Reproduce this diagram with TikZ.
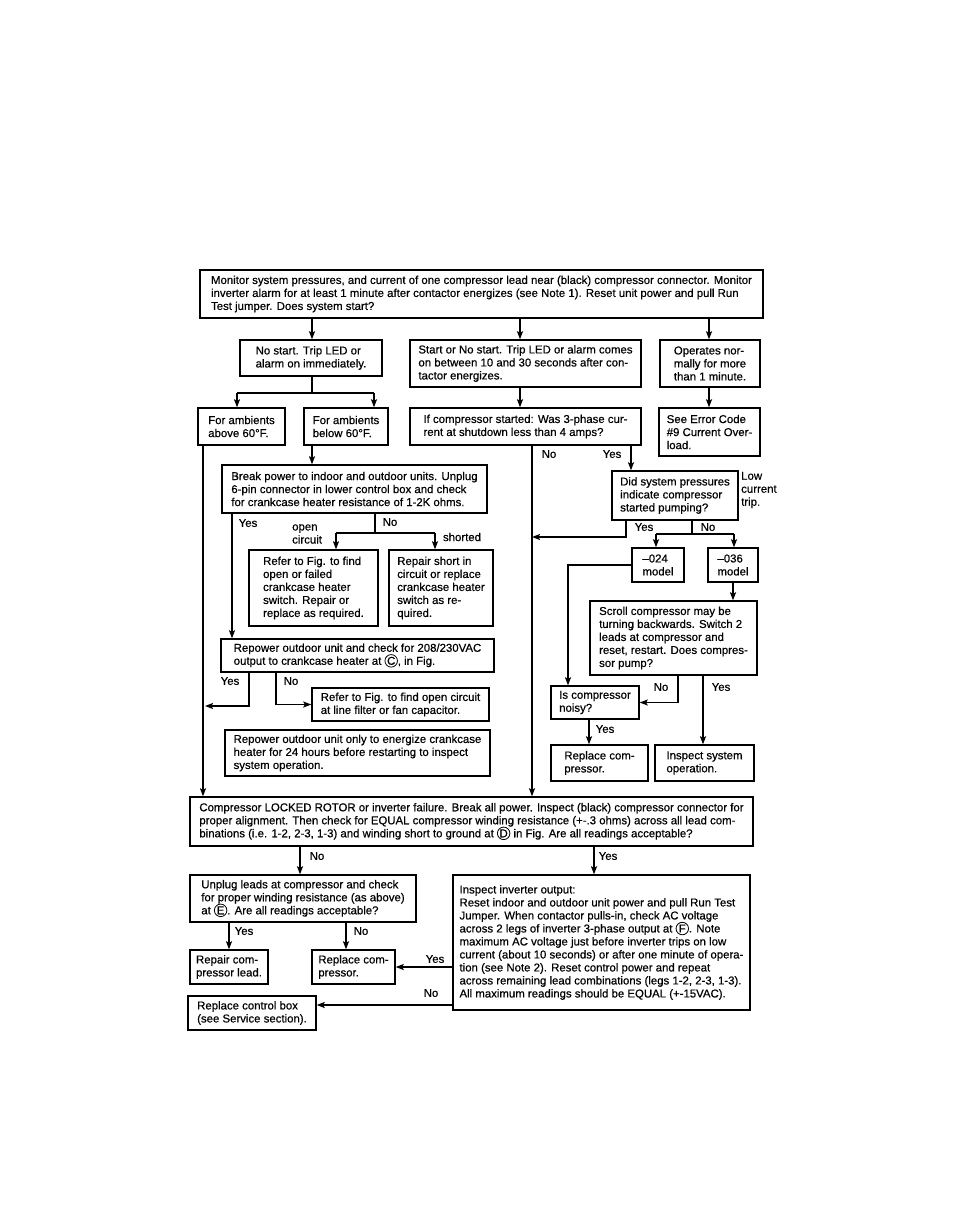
\documentclass[tikz,border=0pt]{standalone}
\usepackage{fontspec}
\setmainfont{Liberation Sans}
\newfontfamily\mainheavy{Liberation Sans}[FakeBold=0.5]
\usetikzlibrary{arrows.meta}
\newcommand{\circlet}[1]{\tikz[baseline=(cl#1.base)]\node[draw, circle, line width=0.8pt, inner sep=0.3pt, minimum size=12.5pt] (cl#1) {#1};}
\begin{document}
\begin{tikzpicture}[x=1pt,y=-1pt,
  font=\mainheavy\fontsize{11.4}{13}\selectfont,
  box/.style={draw, line width=1.4pt, align=left, inner xsep=3pt, inner ysep=2pt},
  lbl/.style={inner sep=0pt, align=left},
  arr/.style={line width=1.4pt, -{Stealth[length=8pt,width=6pt,inset=1.5pt]}},
  ln/.style={line width=1.4pt}]
\useasboundingbox[fill=white] (0,0) rectangle (954,1225);

% boxes
\node[box, minimum width=563pt, minimum height=48pt] (top) at (481.5,294) {Monitor system pressures, and current of one compressor lead near (black) compressor connector.  Monitor\\inverter alarm for at least 1 minute after contactor energizes (see Note 1).  Reset unit power and pull Run\\Test jumper.  Does system start?};
\node[box, minimum width=142pt, minimum height=36pt] (nostart) at (311,358) {No start.  Trip LED or\\alarm on immediately.};
\node[box, minimum width=231pt, minimum height=47pt] (startno) at (525.5,363.5) {Start or No start.  Trip LED or alarm comes\\on between 10 and 30 seconds after con-\\tactor energizes.};
\node[box, minimum width=100pt, minimum height=47pt] (operates) at (710,363.5) {Operates nor-\\mally for more\\than 1 minute.};
\node[box, minimum width=87pt, minimum height=37pt] (above) at (241.5,426.5) {For ambients\\above 60°F.};
\node[box, minimum width=84pt, minimum height=37pt] (below) at (346,426.5) {For ambients\\below 60°F.};
\node[box, minimum width=231pt, minimum height=37pt] (ifcomp) at (525.5,426.5) {If compressor started: Was 3-phase cur-\\rent at shutdown less than 4 amps?};
\node[box, minimum width=101pt, minimum height=48pt] (errcode) at (709.5,432) {See Error Code\\\#9 Current Over-\\load.};
\node[box, minimum width=265pt, minimum height=48pt] (breakp) at (354.5,489) {Break power to indoor and outdoor units.  Unplug\\6-pin connector in lower control box and check\\for crankcase heater resistance of 1-2K ohms.};
\node[box, minimum width=126pt, minimum height=49pt] (didsys) at (675,495.5) {Did system pressures\\indicate compressor\\started pumping?};
\node[box, minimum width=129pt, minimum height=76pt] (refer1) at (313.5,588) {Refer to Fig. to find\\open or failed\\crankcase heater\\switch.  Repair or\\replace as required.};
\node[box, minimum width=104pt, minimum height=76pt] (repair) at (441,588) {Repair short in\\circuit or replace\\crankcase heater\\switch as re-\\quired.};
\node[box, minimum width=52pt, minimum height=34pt] (m024) at (658,565) {–024\\model};
\node[box, minimum width=50pt, minimum height=34pt] (m036) at (733,565) {–036\\model};
\node[box, minimum width=167pt, minimum height=74pt] (scroll) at (673.5,638) {Scroll compressor may be\\turning backwards.  Switch 2\\leads at compressor and\\reset, restart.  Does compres-\\sor pump?};
\node[box, minimum width=273pt, minimum height=33pt] (repower) at (357.5,655.5) {Repower outdoor unit and check for 208/230VAC\\output to crankcase heater at \circlet{C}, in Fig.};
\node[box, minimum width=177pt, minimum height=33pt] (refer2) at (400.5,704.5) {Refer to Fig. to find open circuit\\at line filter or fan capacitor.};
\node[box, minimum width=88pt, minimum height=33pt] (noisy) at (595,702.5) {Is compressor\\noisy?};
\node[box, minimum width=265pt, minimum height=46pt] (repower2) at (357.5,753) {Repower outdoor unit only to energize crankcase\\heater for 24 hours before restarting to inspect\\system operation.};
\node[box, minimum width=97pt, minimum height=36pt] (replcomp1) at (599.5,763) {Replace com-\\pressor.};
\node[box, minimum width=99pt, minimum height=36pt] (inspect) at (704.5,763) {Inspect system\\operation.};
\node[box, minimum width=563pt, minimum height=49pt] (locked) at (471.5,821.5) {Compressor LOCKED ROTOR or inverter failure.  Break all power.  Inspect (black) compressor connector for\\proper alignment.  Then check for EQUAL compressor winding resistance (+-.3 ohms) across all lead com-\\binations (i.e. 1-2, 2-3, 1-3) and winding short to ground at \circlet{D} in Fig.  Are all readings acceptable?};
\node[box, minimum width=226pt, minimum height=47pt] (unplug) at (303,898.5) {Unplug leads at compressor and check\\for proper winding resistance (as above)\\at \circlet{E}.  Are all readings acceptable?};
\node[box, minimum width=297pt, minimum height=135pt] (inverter) at (601.5,942.5) {Inspect inverter output:\\Reset indoor and outdoor unit power and pull Run Test\\Jumper.  When contactor pulls-in, check AC voltage\\across 2 legs of inverter 3-phase output at \circlet{F}.  Note\\maximum AC voltage just before inverter trips on low\\current (about 10 seconds) or after one minute of opera-\\tion (see Note 2).  Reset control power and repeat\\across remaining lead combinations (legs 1-2, 2-3, 1-3).\\All maximum readings should be EQUAL (+-15VAC).};
\node[box, minimum width=78pt, minimum height=34pt] (repairlead) at (229,967) {Repair com-\\pressor lead.};
\node[box, minimum width=83pt, minimum height=34pt] (replcomp2) at (353.5,967) {Replace com-\\pressor.};
\node[box, minimum width=128pt, minimum height=34pt] (ctrlbox) at (252,1013) {Replace control box\\(see Service section).};

% connectors
\draw[arr] (top.south -| 312,0) -- (nostart.north -| 312,0);
\draw[arr] (top.south -| 520,0) -- (startno.north -| 520,0);
\draw[arr] (top.south -| 709,0) -- (operates.north -| 709,0);
\coordinate (j1) at (312,393);
\draw[ln] (nostart.south -| 312,0) -- (j1);
\draw[ln] (j1 -| 237,0) -- (j1 -| 374,0);
\draw[arr] (j1 -| 237,0) -- (above.north -| 237,0);
\draw[arr] (j1 -| 374,0) -- (below.north -| 374,0);
\draw[arr] (startno.south -| 520,0) -- (ifcomp.north -| 520,0);
\draw[arr] (operates.south -| 709,0) -- (errcode.north -| 709,0);
\draw[arr] (above.south -| 203,0) -- (locked.north -| 203,0);
\draw[arr] (below.south -| 312,0) -- (breakp.north -| 312,0);
\draw[arr] (ifcomp.south -| 532,0) -- (locked.north -| 532,0);
\draw[arr] (ifcomp.south -| 631,0) -- (didsys.north -| 631,0);
\coordinate (jl) at (532,537);
\draw[arr] (didsys.south -| 626,0) -- (jl -| 626,0) -- (jl);
\coordinate (j2) at (692,534);
\draw[ln] (didsys.south -| 692,0) -- (j2);
\draw[ln] (j2 -| 656,0) -- (j2 -| 734,0);
\draw[arr] (j2 -| 656,0) -- (m024.north -| 656,0);
\draw[arr] (j2 -| 734,0) -- (m036.north -| 734,0);
\draw[arr] (m024.west) -- (m024.west -| 568,0) -- (noisy.north -| 568,0);
\draw[arr] (m036.south -| 733,0) -- (scroll.north -| 733,0);
\draw[arr] (scroll.south -| 678,0) -- (noisy.east -| 678,0) -- (noisy.east);
\draw[arr] (scroll.south -| 703,0) -- (inspect.north -| 703,0);
\draw[arr] (noisy.south -| 589,0) -- (replcomp1.north -| 589,0);
\draw[arr] (breakp.south -| 232,0) -- (repower.north -| 232,0);
\coordinate (j3) at (375,533);
\draw[ln] (breakp.south -| 375,0) -- (j3);
\draw[ln] (j3 -| 336,0) -- (j3 -| 435,0);
\draw[arr] (j3 -| 336,0) -- (refer1.north -| 336,0);
\draw[arr] (j3 -| 435,0) -- (repair.north -| 435,0);
\coordinate (jy) at (205,706);
\draw[arr] (repower.south -| 249,0) -- (jy -| 249,0) -- (jy);
\draw[arr] (repower.south -| 276,0) -- (refer2.west -| 276,0) -- (refer2.west);
\draw[arr] (locked.south -| 300,0) -- (unplug.north -| 300,0);
\draw[arr] (locked.south -| 594,0) -- (inverter.north -| 594,0);
\draw[arr] (unplug.south -| 229,0) -- (repairlead.north -| 229,0);
\draw[arr] (unplug.south -| 346,0) -- (replcomp2.north -| 346,0);
\draw[arr] (inverter.west |- replcomp2.east) -- (replcomp2.east);
\draw[arr] (inverter.west |- 0,1005) -- (ctrlbox.east |- 0,1005);

% labels
\node[lbl] (l1) at (549,454) {No};
\node[lbl] (l2) at (612,454) {Yes};
\node[lbl, anchor=west] (l3) at (741,490) {Low\\current\\trip.};
\node[lbl] (l4) at (644,527) {Yes};
\node[lbl] (l5) at (708,527) {No};
\node[lbl] (l6) at (661,687) {No};
\node[lbl] (l7) at (721,687) {Yes};
\node[lbl] (l8) at (605,729) {Yes};
\node[lbl] (l9) at (248,523) {Yes};
\node[lbl] (l10) at (390,522) {No};
\node[lbl, anchor=west] (l11) at (292,534) {open\\circuit};
\node[lbl] (l12) at (462,537) {shorted};
\node[lbl] (l13) at (230,681) {Yes};
\node[lbl] (l14) at (291,681) {No};
\node[lbl] (l15) at (317,856) {No};
\node[lbl] (l16) at (608,856) {Yes};
\node[lbl] (l17) at (244,931) {Yes};
\node[lbl] (l18) at (361,931) {No};
\node[lbl] (l19) at (435,959) {Yes};
\node[lbl] (l20) at (431,993) {No};
\end{tikzpicture}
\end{document}
